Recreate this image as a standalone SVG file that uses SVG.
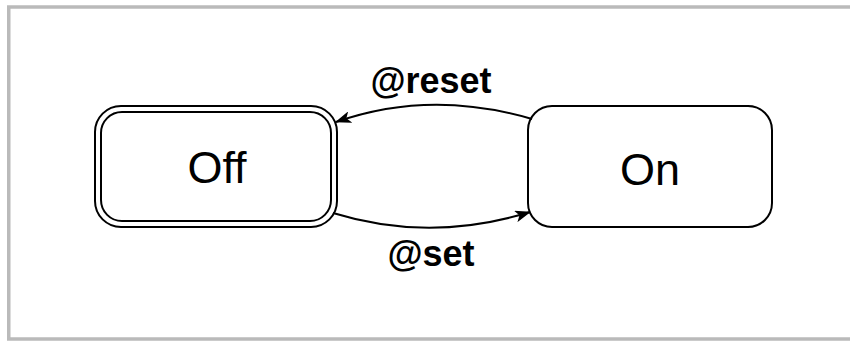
<svg xmlns="http://www.w3.org/2000/svg" width="850" height="342" viewBox="0 0 850 342">
<style>
.frame{fill:#fff;stroke:#bababa;stroke-width:3.5}
.node{fill:#fff;stroke:#000;stroke-width:2}
.name{font-family:"Liberation Sans",Arial,sans-serif;font-size:45px;fill:#000;text-anchor:middle}
.lbl{font-family:"Liberation Sans",Arial,sans-serif;font-size:36px;font-weight:bold;fill:#000;text-anchor:middle}
.edge{fill:none;stroke:#000;stroke-width:2}
</style>
<defs>
<marker id="arr" viewBox="0 0 16 12" refX="15" refY="6" markerWidth="16" markerHeight="12" markerUnits="userSpaceOnUse" orient="auto">
<path d="M0,0 L16,6 L0,12 L4,6 Z" fill="#000"/>
</marker>
</defs>
<rect class="frame" x="8.75" y="7" width="850" height="332"/>
<g id="off">
<rect class="node" x="95" y="106" width="242" height="121" rx="26"/>
<rect class="node" x="101" y="112" width="230" height="109" rx="21"/>
<text class="name" x="217" y="183">Off</text>
</g>
<g id="on">
<rect class="node" x="528" y="106" width="244" height="121" rx="24"/>
<text class="name" x="650" y="185">On</text>
</g>
<g id="connectors">
<path class="edge" d="M532,119 Q430,89 336,122" marker-end="url(#arr)"/>
<path class="edge" d="M333,213 Q430,243 530,212" marker-end="url(#arr)"/>
<text class="lbl" x="431" y="93">@reset</text>
<text class="lbl" x="431" y="266">@set</text>
</g>
</svg>
